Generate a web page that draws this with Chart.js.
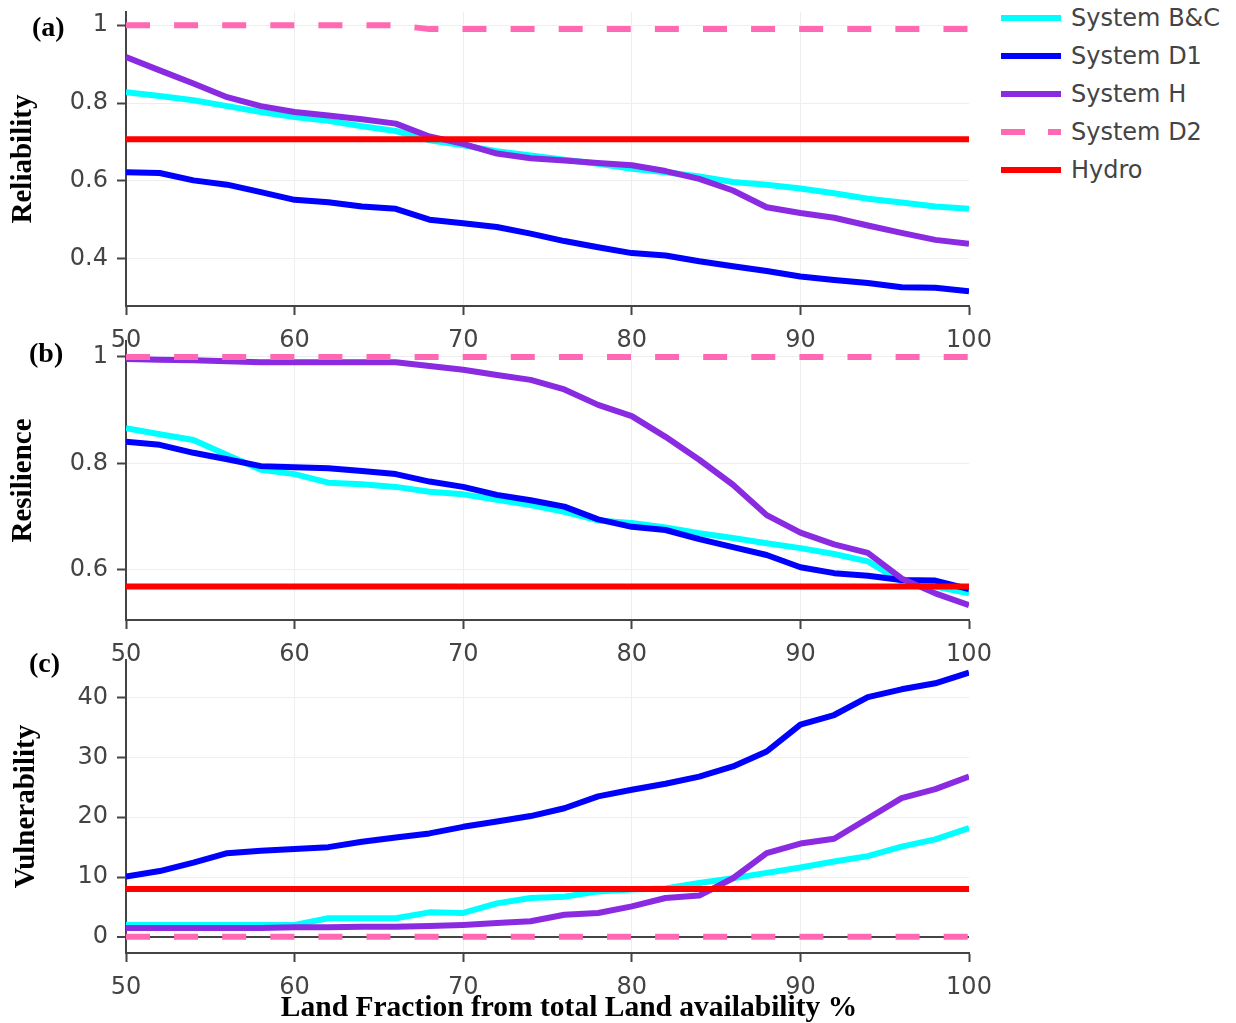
<!DOCTYPE html>
<html lang="en">
<head>
<meta charset="UTF-8">
<title>Reliability, Resilience and Vulnerability</title>
<script src="https://cdn.jsdelivr.net/npm/chart.js"></script>
<style>
    body { margin: 0; background: #fff; font-family: "DejaVu Sans", Verdana, sans-serif; }
    #figure { position: relative; width: 1236px; height: 1023px; overflow: hidden; }
    canvas { position: absolute; left: 0; }
    .serif-bold {
        position: absolute;
        font-family: "Liberation Serif", "Times New Roman", serif;
        font-weight: bold;
        font-size: 28px;
        line-height: 32px;
        color: #000;
        white-space: nowrap;
    }
    .legend-row { position: absolute; left: 1000px; width: 236px; height: 30px; }
    .legend-line { position: absolute; left: 1px; top: 12px; width: 60px; height: 6px; }
    .legend-text { position: absolute; left: 71px; top: 0; font-size: 24px; line-height: 30px; color: #444; white-space: nowrap; }
</style>
</head>
<body>
<div id="figure">
    <canvas id="panel-a" width="1000" height="352" style="top:0px"></canvas>
    <canvas id="panel-b" width="1000" height="336" style="top:330px"></canvas>
    <canvas id="panel-c" width="1000" height="354" style="top:645px"></canvas>

    <div class="serif-bold" style="left:32px; top:11px;">(a)</div>
    <div class="serif-bold" style="left:29px; top:337px;">(b)</div>
    <div class="serif-bold" style="left:29px; top:647px;">(c)</div>
    <div class="serif-bold" style="left:0; top:990px; width:1138px; text-align:center; font-size:29.5px;">Land Fraction from total Land availability %</div>

    <div id="legend"></div>
</div>

<script>
    // x values (land fraction %)
    const landFraction = [50, 52, 54, 56, 58, 60, 62, 64, 66, 68, 70, 72, 74, 76, 78, 80, 82, 84, 86, 88, 90, 92, 94, 96, 98, 100];

    // (a) Reliability
    const relBC = [0.828, 0.818, 0.807, 0.792, 0.777, 0.764, 0.754, 0.740, 0.728, 0.704, 0.691, 0.676, 0.665, 0.654, 0.644, 0.631, 0.622, 0.611, 0.597, 0.590, 0.580, 0.568, 0.554, 0.544, 0.534, 0.528];
    const relD1 = [0.622, 0.620, 0.601, 0.590, 0.571, 0.551, 0.545, 0.534, 0.528, 0.500, 0.491, 0.481, 0.464, 0.445, 0.429, 0.414, 0.408, 0.393, 0.380, 0.368, 0.354, 0.345, 0.337, 0.326, 0.325, 0.316];
    const relH  = [0.918, 0.884, 0.850, 0.815, 0.792, 0.777, 0.768, 0.758, 0.747, 0.714, 0.695, 0.670, 0.658, 0.652, 0.646, 0.640, 0.625, 0.605, 0.575, 0.532, 0.517, 0.505, 0.485, 0.466, 0.448, 0.438];
    const relD2 = [1, 1, 1, 1, 1, 1, 1, 1, 1, 0.99, 0.99, 0.99, 0.99, 0.99, 0.99, 0.99, 0.99, 0.99, 0.99, 0.99, 0.99, 0.99, 0.99, 0.99, 0.99, 0.99];
    const relHydro = [0.707, 0.707, 0.707, 0.707, 0.707, 0.707, 0.707, 0.707, 0.707, 0.707, 0.707, 0.707, 0.707, 0.707, 0.707, 0.707, 0.707, 0.707, 0.707, 0.707, 0.707, 0.707, 0.707, 0.707, 0.707, 0.707];

    // (b) Resilience
    const resBC = [0.866, 0.855, 0.844, 0.816, 0.788, 0.780, 0.764, 0.761, 0.756, 0.747, 0.742, 0.732, 0.722, 0.709, 0.693, 0.688, 0.680, 0.669, 0.660, 0.650, 0.641, 0.630, 0.616, 0.578, 0.569, 0.556];
    const resD1 = [0.841, 0.835, 0.820, 0.808, 0.795, 0.793, 0.791, 0.786, 0.780, 0.766, 0.756, 0.741, 0.731, 0.719, 0.695, 0.681, 0.675, 0.658, 0.643, 0.628, 0.605, 0.594, 0.589, 0.581, 0.580, 0.564];
    const resH  = [0.996, 0.995, 0.994, 0.992, 0.990, 0.990, 0.990, 0.990, 0.990, 0.983, 0.976, 0.966, 0.957, 0.939, 0.910, 0.889, 0.850, 0.807, 0.760, 0.703, 0.670, 0.648, 0.632, 0.584, 0.556, 0.534];
    const resD2 = [1, 1, 1, 1, 1, 1, 1, 1, 1, 1, 1, 1, 1, 1, 1, 1, 1, 1, 1, 1, 1, 1, 1, 1, 1, 1];
    const resHydro = [0.569, 0.569, 0.569, 0.569, 0.569, 0.569, 0.569, 0.569, 0.569, 0.569, 0.569, 0.569, 0.569, 0.569, 0.569, 0.569, 0.569, 0.569, 0.569, 0.569, 0.569, 0.569, 0.569, 0.569, 0.569, 0.569];

    // (c) Vulnerability
    const vulBC = [2.0, 2.0, 2.0, 2.0, 2.0, 2.0, 3.1, 3.1, 3.1, 4.1, 4.0, 5.6, 6.5, 6.7, 7.6, 7.9, 8.1, 9.0, 9.8, 10.7, 11.6, 12.6, 13.5, 15.1, 16.3, 18.2];
    const vulD1 = [10.1, 11.0, 12.4, 14.0, 14.4, 14.7, 15.0, 15.9, 16.6, 17.3, 18.4, 19.3, 20.2, 21.5, 23.5, 24.6, 25.6, 26.8, 28.5, 31.0, 35.5, 37.1, 40.1, 41.4, 42.4, 44.2];
    const vulH  = [1.5, 1.5, 1.5, 1.5, 1.5, 1.6, 1.6, 1.7, 1.7, 1.8, 2.0, 2.3, 2.6, 3.7, 4.0, 5.1, 6.5, 6.9, 9.8, 14.0, 15.6, 16.4, 19.8, 23.2, 24.7, 26.8];
    const vulD2 = [0, 0, 0, 0, 0, 0, 0, 0, 0, 0, 0, 0, 0, 0, 0, 0, 0, 0, 0, 0, 0, 0, 0, 0, 0, 0];
    const vulHydro = [8, 8, 8, 8, 8, 8, 8, 8, 8, 8, 8, 8, 8, 8, 8, 8, 8, 8, 8, 8, 8, 8, 8, 8, 8, 8];

    const seriesNames = ["System B&C", "System D1", "System H", "System D2", "Hydro"];
    const seriesColors = ["#00FFFF", "#0000FF", "#8A2BE2", "#FF69B4", "#FF0000"];
    const seriesDashed = [false, false, false, true, false];

    const xTicks = [50, 60, 70, 80, 90, 100];
    const relTicks = [0.4, 0.6, 0.8, 1];
    const resTicks = [0.6, 0.8, 1];
    const vulTicks = [0, 10, 20, 30, 40];

    const AXIS_COLOR = "#444";
    const GRID_COLOR = "#eeeeee";
    const TICK_FONT = { family: "DejaVu Sans", size: 24 };

    function buildDatasets(seriesList) {
        return seriesList.map((values, i) => ({
            label: seriesNames[i],
            data: landFraction.map((x, j) => ({ x: x, y: values[j] })),
            borderColor: seriesColors[i],
            backgroundColor: seriesColors[i],
            borderWidth: 6,
            borderDash: seriesDashed[i] ? [24, 24.1] : [],
            borderJoinStyle: "round",
            pointRadius: 0,
            tension: 0,
            fill: false,
            order: seriesList.length - i   // later traces sit on top, like the original
        }));
    }

    function makePanel(canvasId, title, seriesList, yTicks, yMin, yMax, padTop, titlePad, showZero) {
        const ctx = document.getElementById(canvasId).getContext("2d");
        return new Chart(ctx, {
            type: "line",
            data: { datasets: buildDatasets(seriesList) },
            options: {
                responsive: false,
                animation: false,
                events: [],
                layout: { padding: { top: padTop, right: 31, left: 0, bottom: 0 } },
                plugins: { legend: { display: false }, tooltip: { enabled: false } },
                scales: {
                    x: {
                        type: "linear",
                        min: 50,
                        max: 100,
                        afterBuildTicks: axis => { axis.ticks = xTicks.map(v => ({ value: v })); },
                        afterFit: axis => {
                            axis.height = 46;
                            axis.paddingLeft = 0;
                            axis.paddingRight = 0;
                        },
                        ticks: {
                            color: AXIS_COLOR,
                            font: TICK_FONT,
                            padding: 11,
                            maxRotation: 0,
                            autoSkip: false,
                            callback: v => String(v)
                        },
                        grid: {
                            color: c => (c.tick && (c.tick.value === 50 || c.tick.value === 100)) ? "rgba(0,0,0,0)" : GRID_COLOR,
                            tickColor: AXIS_COLOR,
                            tickLength: 9,
                            tickWidth: 2
                        },
                        border: { color: AXIS_COLOR, width: 2 }
                    },
                    y: {
                        min: yMin,
                        max: yMax,
                        afterBuildTicks: axis => { axis.ticks = yTicks.map(v => ({ value: v })); },
                        afterFit: axis => {
                            axis.width = 126;
                            axis.paddingTop = 0;
                            axis.paddingBottom = 0;
                        },
                        ticks: {
                            color: AXIS_COLOR,
                            font: TICK_FONT,
                            padding: 9,
                            callback: v => String(v)
                        },
                        grid: {
                            color: c => (showZero && c.tick && c.tick.value === 0) ? AXIS_COLOR : GRID_COLOR,
                            lineWidth: c => (showZero && c.tick && c.tick.value === 0) ? 2 : 1,
                            tickColor: AXIS_COLOR,
                            tickLength: 9,
                            tickWidth: 2
                        },
                        border: { color: AXIS_COLOR, width: 2 },
                        title: {
                            display: true,
                            text: title,
                            color: "#000",
                            padding: { top: titlePad, bottom: 0 },
                            font: { family: "Liberation Serif", size: 29, weight: "bold" }
                        }
                    }
                }
            }
        });
    }

    makePanel("panel-a", "Reliability", [relBC, relD1, relH, relD2, relHydro], relTicks, 0.278, 1.034, 12, 6, false);
    makePanel("panel-b", "Resilience", [resBC, resD1, resH, resD2, resHydro], resTicks, 0.506, 1.030, 11, 6, false);
    makePanel("panel-c", "Vulnerability", [vulBC, vulD1, vulH, vulD2, vulHydro], vulTicks, -2.7, 46.3, 15, 9, true);

    // Legend (top right)
    const legendEl = document.getElementById("legend");
    const legendCenters = [18, 56, 94, 132, 170];
    seriesNames.forEach((name, i) => {
        const row = document.createElement("div");
        row.className = "legend-row";
        row.style.top = (legendCenters[i] - 15) + "px";
        const line = document.createElement("div");
        line.className = "legend-line";
        line.style.background = seriesDashed[i]
            ? `repeating-linear-gradient(to right, ${seriesColors[i]} 0 24px, transparent 24px 47px)`
            : seriesColors[i];
        const text = document.createElement("div");
        text.className = "legend-text";
        text.textContent = name;
        row.appendChild(line);
        row.appendChild(text);
        legendEl.appendChild(row);
    });
</script>
</body>
</html>
